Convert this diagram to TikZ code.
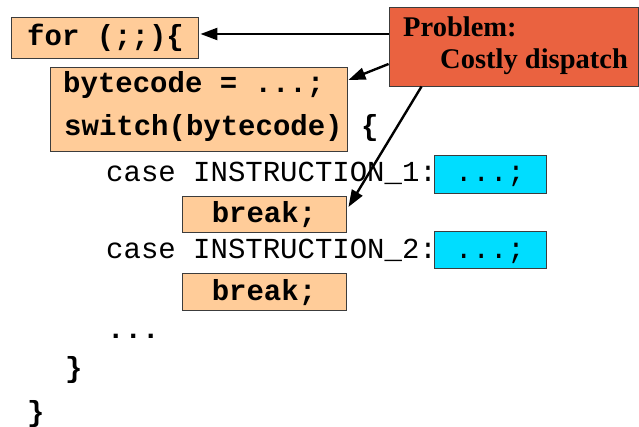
\documentclass[tikz,border=0pt]{standalone}
\usepackage{fontspec}
\setmainfont{Liberation Serif}
\setmonofont{Liberation Mono}
\usetikzlibrary{arrows.meta}
\definecolor{peach}{RGB}{255,204,153}
\definecolor{coral}{RGB}{234,98,64}
\definecolor{aqua}{RGB}{0,221,255}
\definecolor{edge}{RGB}{60,60,60}
\begin{document}
\begin{tikzpicture}[x=1pt,y=-1pt,
  box/.style={draw=edge,line width=0.9pt,inner sep=0pt,rectangle},
  peachbox/.style={box,fill=peach},
  aquabox/.style={box,fill=aqua},
  probbox/.style={box,fill=coral},
  code/.style={inner sep=0pt,anchor=base west,font=\fontsize{29}{34}\selectfont\ttfamily},
  codeb/.style={code,font=\fontsize{29}{34}\selectfont\ttfamily\bfseries},
  arr/.style={line width=2.4pt,-{Triangle[length=17pt,width=12pt]}}]
\useasboundingbox (0,0) rectangle (639,427);
% highlighted boxes
\node[peachbox,minimum width=187pt,minimum height=41pt] (forbox) at (104.5,37.5) {};
\node[peachbox,minimum width=297pt,minimum height=84pt] (bcbox) at (198.5,109) {};
\node[peachbox,minimum width=164pt,minimum height=36pt] (brk1) at (264,214) {};
\node[peachbox,minimum width=164pt,minimum height=37pt] (brk2) at (264,291.5) {};
\node[aquabox,minimum width=112pt,minimum height=38pt] (body1) at (490,174) {};
\node[aquabox,minimum width=112pt,minimum height=37pt] (body2) at (490,249.5) {};
\node[probbox,minimum width=249.5pt,minimum height=79pt] (prob) at (513.75,46.5) {};
% code lines
\node[codeb] (l1) at (27,46) {for (;;)\{};
\node[codeb] (l2) at (63,93) {bytecode = ...;};
\node[codeb] (l3) at (64,136) {switch(bytecode)};
\node[codeb] (l3b) at (361,136) {\{};
\node[code] (l4) at (106,182) {case INSTRUCTION\_1:};
\node[code] (l4b) at (455,182) {...;};
\node[codeb,anchor=base] (l5) at (264,223) {break;};
\node[code] (l6) at (106,259) {case INSTRUCTION\_2:};
\node[code] (l6b) at (455,259) {...;};
\node[codeb,anchor=base] (l7) at (264,300) {break;};
\node[codeb] (l8) at (107,338) {...};
\node[codeb] (l9) at (65,377) {\}};
\node[codeb] (l10) at (27,421) {\}};
% annotation
\node[inner sep=0pt,anchor=base west,font=\fontsize{28.5}{34}\selectfont\bfseries] (pt1) at (403,37) {Problem:};
\node[inner sep=0pt,anchor=base west,font=\fontsize{28.5}{34}\selectfont\bfseries] (pt2) at (440,69) {Costly dispatch};
% pointers
\draw[arr] (prob.west |- 0,34) -- ([xshift=2pt]forbox.east |- 0,34);
\draw[arr] ([yshift=-17.5pt]prob.west) -- ([xshift=1pt,yshift=29pt]bcbox.east);
\draw[arr] ([xshift=33pt]prob.south west) -- ([xshift=2pt,yshift=7pt]brk1.east);
\end{tikzpicture}
\end{document}
